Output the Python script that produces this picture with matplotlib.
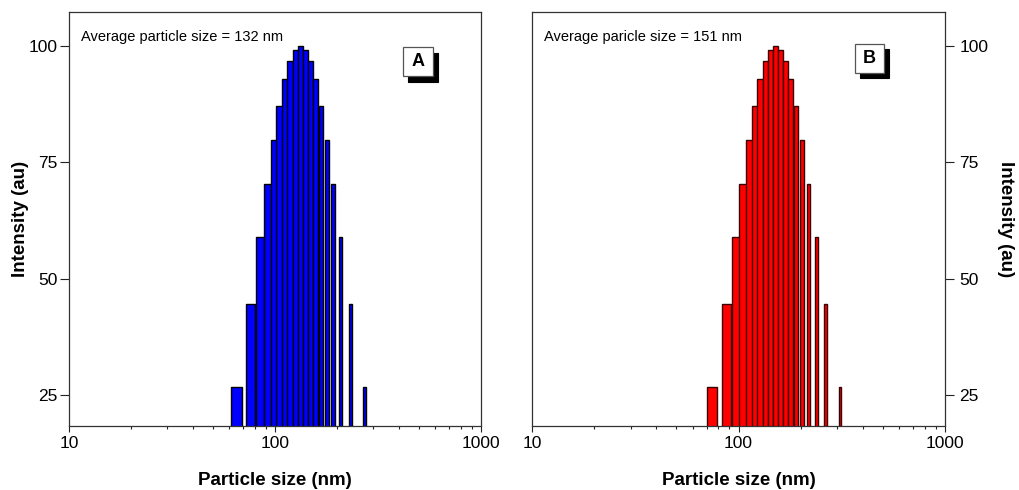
import matplotlib
matplotlib.use("Agg")
import matplotlib.pyplot as plt
from matplotlib.patches import Rectangle
from matplotlib.ticker import LogLocator, FixedLocator, NullFormatter, FixedFormatter

# ---- data ----
size_A = [65.2, 76.0, 84.7, 92.2, 99.1, 105.5, 112.1, 118.9, 125.8, 133.2,
          140.9, 149.1, 157.6, 166.7, 178.2, 191.6, 208.7, 232.5, 272.0]
size_B = [74.7, 87.3, 96.9, 105.1, 113.0, 120.4, 127.8, 135.1, 142.9, 151.1,
          159.7, 168.9, 178.9, 189.8, 203.5, 218.8, 237.8, 264.8, 309.5]
intensity_A = [26.7, 44.6, 58.9, 70.3, 79.8, 87.2, 92.8, 96.7, 99.1, 99.9,
               99.1, 96.7, 92.8, 87.2, 79.8, 70.3, 58.9, 44.6, 26.7]
intensity_B = [26.7, 44.6, 58.9, 70.3, 79.8, 87.2, 92.8, 96.7, 99.1, 99.9,
               99.1, 96.7, 92.8, 87.2, 79.8, 70.3, 58.9, 44.6, 26.7]
y_ticks = [25, 50, 75, 100]
x_ticks = [10, 100, 1000]
x_ticklabels = ["10", "100", "1000"]
notes = ["Average particle size = 132 nm", "Average paricle size = 151 nm"]
panel_letters = ["A", "B"]

plt.rcParams['font.family'] = ['Liberation Sans', 'DejaVu Sans']

W, H = 1019, 490
fig = plt.figure(figsize=(W / 100, H / 100), dpi=100)

def px_axes(x0, x1, ytop, ybot):
    return fig.add_axes([x0 / W, 1 - ybot / H, (x1 - x0) / W, (ybot - ytop) / H])

axA = px_axes(69, 481, 12.5, 426)
axB = px_axes(532, 945, 12.5, 426)

panels = [
    (axA, size_A, intensity_A, "#0000FF", "#000000", 7.9, notes[0], panel_letters[0], 0.847, 0.881, "left"),
    (axB, size_B, intensity_B, "#FF0000", "#3a0000", 8.6, notes[1], panel_letters[1], 0.817, 0.8895, "right"),
]

for ax, sizes, vals, fc, ec, bw, note, letter, bx, by, side in panels:
    ax.bar(sizes, vals, width=bw, bottom=0, color=fc, edgecolor=ec,
           linewidth=1.0, align='center', zorder=2)
    ax.set_xscale('log')
    ax.set_xlim(10, 1000)
    ax.set_ylim(18.3, 107.2)
    ax.xaxis.set_major_locator(FixedLocator(x_ticks))
    ax.xaxis.set_major_formatter(FixedFormatter(x_ticklabels))
    ax.xaxis.set_minor_locator(LogLocator(base=10, subs=range(2, 10)))
    ax.xaxis.set_minor_formatter(NullFormatter())
    ax.yaxis.set_major_locator(FixedLocator(y_ticks))
    ax.tick_params(axis='x', which='major', direction='out', length=4.5, width=0.8,
                   labelsize=12.5, pad=3, colors='#222222', labelcolor='black')
    ax.tick_params(axis='x', which='minor', direction='out', length=2.5, width=0.8,
                   colors='#222222')
    ax.tick_params(axis='y', which='major', direction='out', length=6.5, width=0.8,
                   labelsize=12.5, pad=(1.5 if side == "left" else 4),
                   colors='#222222', labelcolor='black')
    ax.tick_params(axis='y', which='minor', length=0)
    for s in ax.spines.values():
        s.set_color('#333333')
        s.set_linewidth(0.9)
    ax.set_xlabel("Particle size (nm)", fontsize=13.5, fontweight='bold')
    ax.xaxis.label.set_va('center')
    ax.xaxis.set_label_coords(0.5, -0.131)
    ax.set_ylabel("Intensity (au)", fontsize=13.5, fontweight='bold')
    ax.yaxis.label.set_va('center')
    if side == "right":
        ax.yaxis.tick_right()
        ax.yaxis.set_label_position('right')
        ax.yaxis.label.set_rotation(270)
        ax.yaxis.set_label_coords(1.168, 0.5)
    else:
        ax.yaxis.set_label_coords(-0.117, 0.5)

    ax.text(0.028, 0.9415, note, transform=ax.transAxes, fontsize=10.5,
            ha='left', va='center')

    # letter box with shadow
    bwid, bhei = 29.5 / 412, 28.7 / 413.5
    dx, dy = 5.2 / 412, 5.5 / 413.5
    ax.add_patch(Rectangle((bx - bwid / 2 + dx, by - bhei / 2 - dy), bwid, bhei,
                           transform=ax.transAxes, facecolor='black',
                           edgecolor='black', linewidth=0.8, zorder=5, clip_on=False))
    ax.add_patch(Rectangle((bx - bwid / 2, by - bhei / 2), bwid, bhei,
                           transform=ax.transAxes, facecolor='white',
                           edgecolor='#555555', linewidth=0.9, zorder=6, clip_on=False))
    ax.text(bx, by, letter, transform=ax.transAxes, fontsize=13,
            fontweight='bold', ha='center', va='center', zorder=7)

fig.savefig("out.png", dpi=100)
